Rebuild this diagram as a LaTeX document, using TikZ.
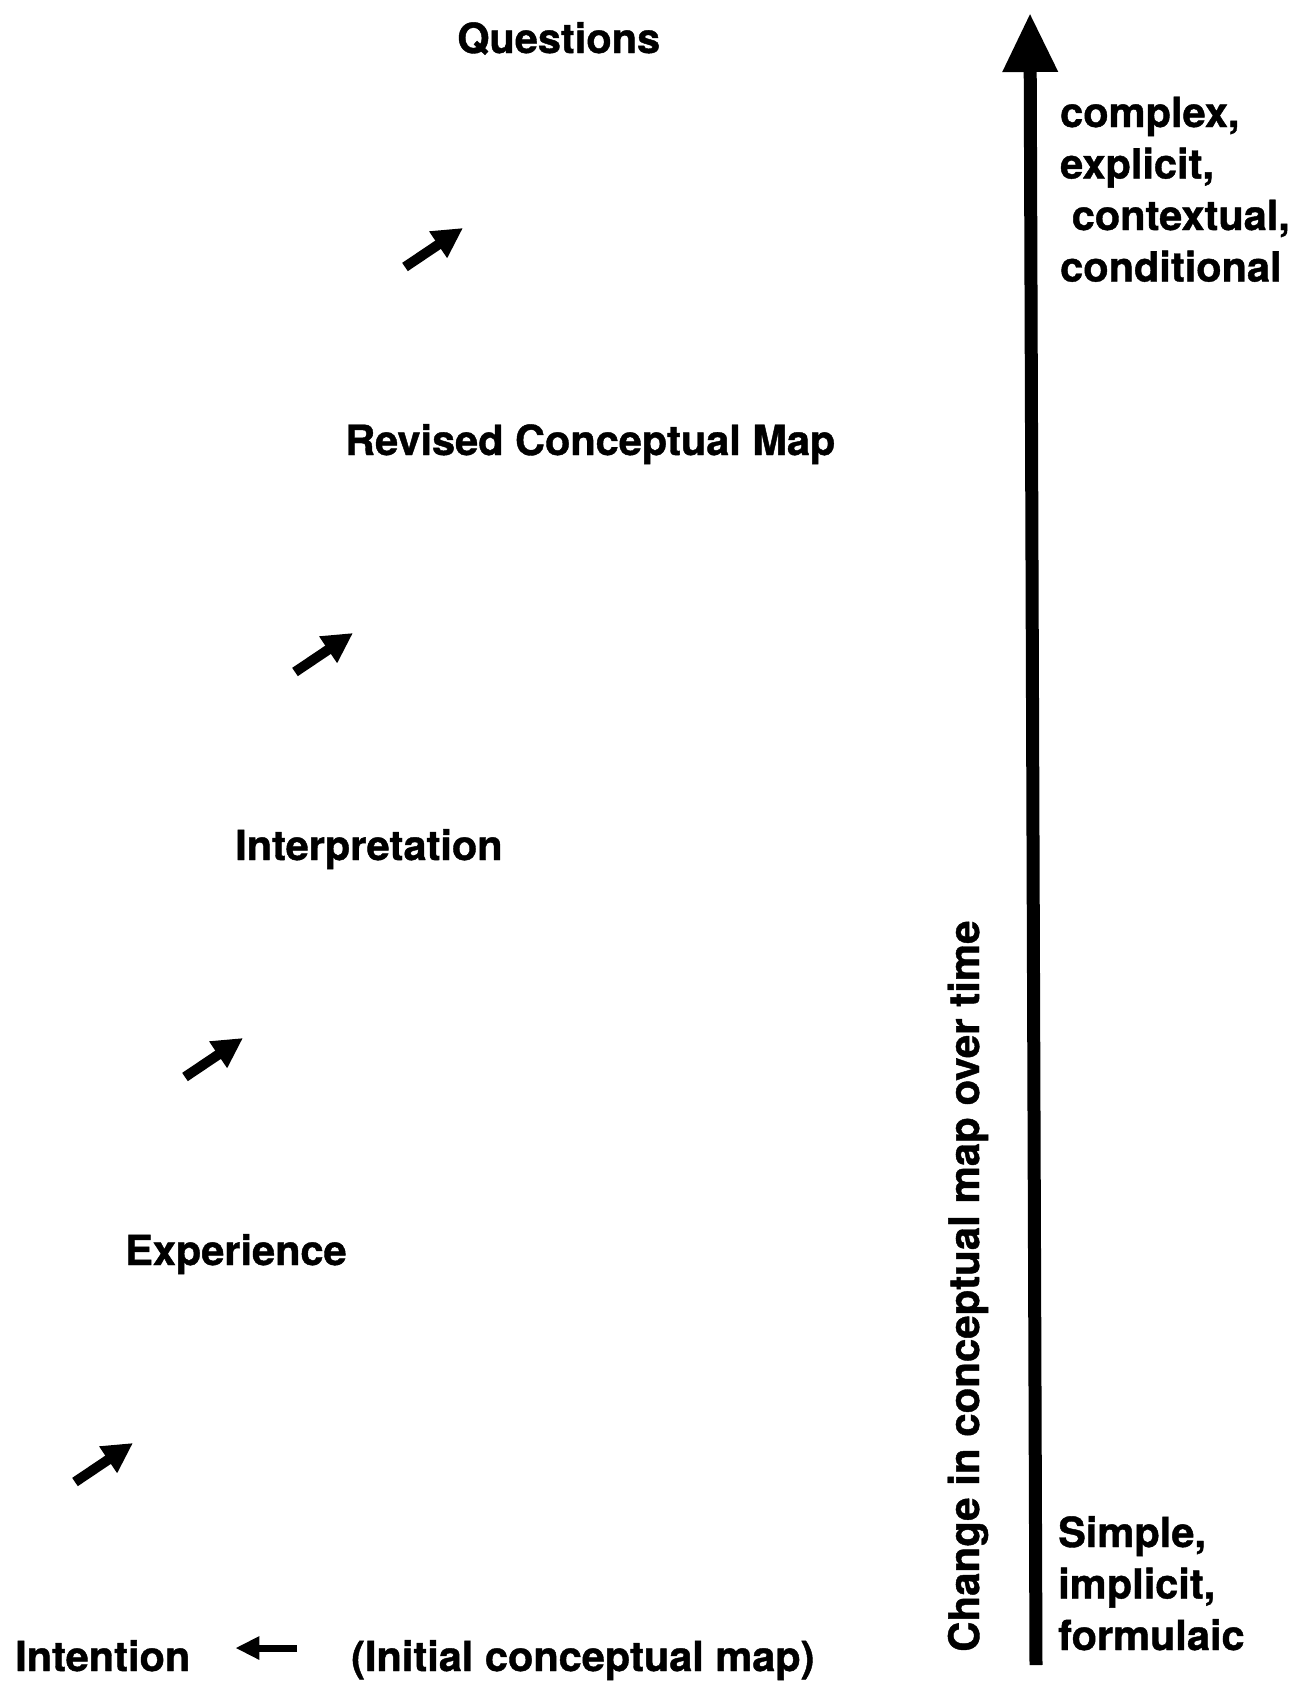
\documentclass[tikz,border=0pt]{standalone}
\usepackage{fontspec}
\setmainfont{TeX Gyre Heros}[BoldFeatures={FakeBold=1}]
\usetikzlibrary{arrows.meta}
\begin{document}
\begin{tikzpicture}[x=1pt,y=-1pt,
  lbl/.style={font=\bfseries\fontsize{41.5}{51.5}\selectfont, inner sep=0pt, anchor=base west},
  stepar/.style={line width=10pt, -{Triangle[length=30pt,width=30pt]}},
  mainar/.style={line width=13pt, -{Triangle[length=59pt,width=52pt]}},
  leftar/.style={line width=7pt, -{Triangle[length=24pt,width=22pt]}}]
\useasboundingbox (0,0) rectangle (1294,1681);
% staircase labels
\node[lbl] (int) at (15,1671) {Intention};
\node[lbl] (init) at (351,1671) {(Initial conceptual map)};
\node[lbl] (exp) at (125,1265) {Experience};
\node[lbl] (interp) at (235,860) {Interpretation};
\node[lbl] (rev) at (345,455) {Revised Conceptual Map};
\node[lbl] (q) at (457,53) {Questions};
% arrow from initial map to intention
\draw[leftar, shorten <=54pt, shorten >=45pt] ([yshift=23pt]init.base west) -- ([yshift=23pt]int.base east);
% small step arrows
\coordinate (a1s) at (75,1482);  \coordinate (a1e) at (133,1443);
\coordinate (a2s) at (185,1077); \coordinate (a2e) at (243,1038);
\coordinate (a3s) at (295,672);  \coordinate (a3e) at (353,633);
\coordinate (a4s) at (405,267);  \coordinate (a4e) at (463,228);
\draw[stepar] (a1s) -- (a1e);
\draw[stepar] (a2s) -- (a2e);
\draw[stepar] (a3s) -- (a3e);
\draw[stepar] (a4s) -- (a4e);
% main vertical arrow
\coordinate (mbot) at (1036,1665);
\coordinate (mtop) at (1030,13);
\draw[mainar] (mbot) -- (mtop);
\node[lbl, font=\bfseries\fontsize{42}{50}\selectfont, rotate=90] (chg) at (979,1652) {Change in conceptual map over time};
\node[lbl] (cx) at (1060,127) {\begin{tabular}[t]{@{}l@{}}complex,\\explicit,\\\hspace*{0.28em}contextual,\\conditional\end{tabular}};
\node[lbl] (sp) at (1058,1547) {\begin{tabular}[t]{@{}l@{}}Simple,\\implicit,\\formulaic\end{tabular}};
\end{tikzpicture}
\end{document}
